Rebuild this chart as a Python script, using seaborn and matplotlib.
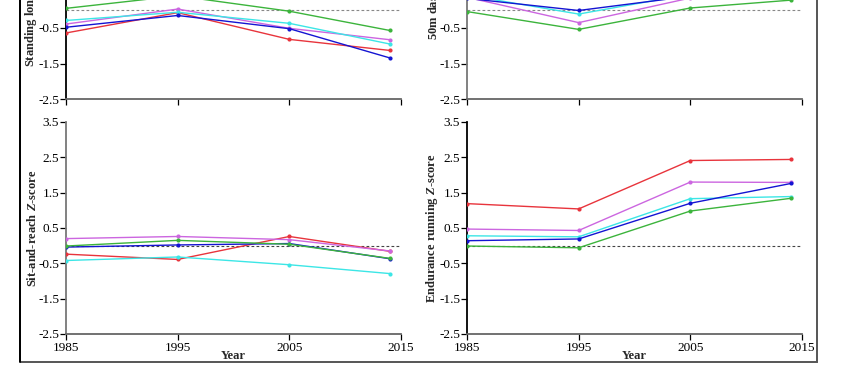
import numpy as np
import pandas as pd
import matplotlib
matplotlib.use("Agg")
import matplotlib.pyplot as plt
import seaborn as sns
from matplotlib.patches import Rectangle

sns.set_theme(style="white")
plt.rcParams["font.family"] = ["Liberation Serif", "DejaVu Serif"]
plt.rcParams["mathtext.fontset"] = "custom"
plt.rcParams["mathtext.rm"] = "Liberation Serif:bold"
plt.rcParams["mathtext.it"] = "Liberation Serif:bold:italic"
plt.rcParams["mathtext.bf"] = "Liberation Serif:bold"

# ---- data ----
years = [1985, 1995, 2005, 2014]
groups = ["Group 1", "Group 2", "Group 3", "Group 4", "Group 5"]
colors = ["#e8343c", "#cc66e0", "#3ce6e6", "#1414d2", "#3cb43c"]

standing_long_jump = {
    "Group 1": [-0.64, -0.07, -0.82, -1.13],
    "Group 2": [-0.39, 0.03, -0.51, -0.83],
    "Group 3": [-0.29, -0.06, -0.37, -0.95],
    "Group 4": [-0.48, -0.15, -0.52, -1.34],
    "Group 5": [0.05, 0.40, -0.03, -0.57],
}
dash_50m = {
    "Group 1": [0.95, 0.62, 1.20, 1.05],
    "Group 2": [0.36, -0.35, 0.34, 0.55],
    "Group 3": [0.42, -0.11, 0.45, 0.60],
    "Group 4": [0.33, -0.01, 0.39, 0.50],
    "Group 5": [-0.04, -0.54, 0.06, 0.28],
}
sit_and_reach = {
    "Group 1": [-0.24, -0.39, 0.26, -0.16],
    "Group 2": [0.20, 0.26, 0.17, -0.15],
    "Group 3": [-0.42, -0.32, -0.54, -0.79],
    "Group 4": [-0.04, 0.02, 0.06, -0.37],
    "Group 5": [-0.01, 0.15, 0.04, -0.36],
}
endurance_running = {
    "Group 1": [1.19, 1.04, 2.41, 2.44],
    "Group 2": [0.47, 0.43, 1.80, 1.79],
    "Group 3": [0.28, 0.25, 1.33, 1.39],
    "Group 4": [0.14, 0.19, 1.20, 1.76],
    "Group 5": [-0.01, -0.06, 0.98, 1.34],
}
xticks = [1985, 1995, 2005, 2015]
yticks = [-2.5, -1.5, -0.5, 0.5, 1.5, 2.5, 3.5]

panels = [
    (standing_long_jump, r"Standing long jump $Z$-score", "top", "left"),
    (dash_50m, r"50m dash $Z$-score", "top", "right"),
    (sit_and_reach, r"Sit-and-reach $Z$-score", "bottom", "left"),
    (endurance_running, r"Endurance running $Z$-score", "bottom", "right"),
]

W, H = 850, 385
fig = plt.figure(figsize=(8.5, 3.85), dpi=100)

# outer frame of the original figure (top cut off)
fig.add_artist(Rectangle((20 / W, 1 - 362 / H), (817 - 20) / W, 1.0,
                         transform=fig.transFigure, fill=False,
                         edgecolor="#555555", linewidth=1.4, clip_on=False))
fig.add_artist(plt.Line2D([20 / W, 20 / W], [1 - 362 / H, 1.05],
                          transform=fig.transFigure, color="black", linewidth=1.4))

palette = dict(zip(groups, colors))

for data, ylabel, row, col in panels:
    x0 = 66 / W if col == "left" else 467 / W
    width = 335 / W
    if row == "bottom":
        y0 = 1 - 334 / H
        height = 212 / H
    else:
        y0 = 1 - 99.3 / H
        height = 214 / H
    ax = fig.add_axes([x0, y0, width, height])
    df = pd.DataFrame([
        {"Year": y, "Z": v, "Group": g}
        for g in groups for y, v in zip(years, data[g])
    ])
    ax.axhline(0, color="#444444" if row == "bottom" else "#888888",
               linestyle=(0, (2.5, 2)), linewidth=0.8, zorder=1)
    sns.lineplot(data=df, x="Year", y="Z", hue="Group", palette=palette,
                 marker="o", markersize=3, markeredgewidth=0, linewidth=1.0,
                 legend=False, ax=ax, zorder=3)
    ax.set_xlim(1985, 2015)
    ax.set_ylim(-2.5, 3.5)
    ax.set_xticks(xticks)
    ax.set_yticks(yticks)
    ax.set_yticklabels([f"{t:.1f}" for t in yticks])
    sns.despine(ax=ax)
    ax.spines["bottom"].set_color("#666666")
    ax.spines["bottom"].set_linewidth(1.3)
    left_col = "black" if (row, col) in [("top", "left"), ("bottom", "right")] else "#777777"
    ax.spines["left"].set_color(left_col)
    ax.spines["left"].set_linewidth(1.3)
    ax.tick_params(axis="both", direction="out", length=4, width=0.9,
                   colors="black", labelsize=9.5, pad=1, bottom=True, left=True)
    ax.tick_params(axis="x", pad=2)
    ax.set_ylabel(ylabel, fontsize=9, fontweight="bold", labelpad=-1)
    if row == "bottom":
        ax.set_xlabel("Year", fontsize=9, fontweight="bold", labelpad=-3)
        ax.set_xticklabels([str(t) for t in xticks])
    else:
        ax.set_xlabel("")
        ax.set_xticklabels([])
    ax.patch.set_alpha(0)

fig.savefig("out.png", dpi=100)
